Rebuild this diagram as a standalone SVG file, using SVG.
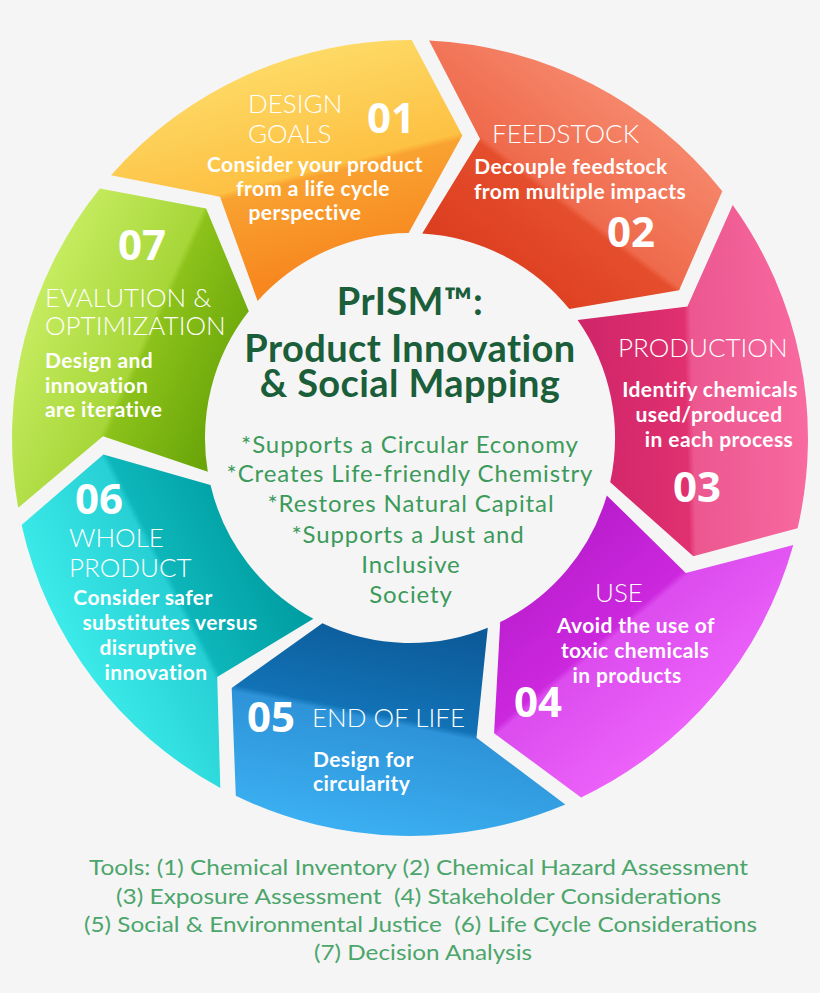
<svg xmlns="http://www.w3.org/2000/svg" width="820" height="993" viewBox="0 0 820 993">
<style>
.t{font-family:Lato,"Open Sans","Liberation Sans",sans-serif;font-weight:300;font-size:26px;fill:#ffffff}
.d{font-family:Lato,"Open Sans","Liberation Sans",sans-serif;font-weight:700;font-size:21px;fill:#ffffff;letter-spacing:0.4px}
.dm{text-anchor:middle}
.n{font-family:"Open Sans","Liberation Sans",sans-serif;font-weight:700;font-size:42px;fill:#ffffff}
.h{font-family:Lato,"Open Sans","Liberation Sans",sans-serif;font-weight:700;font-size:38px;fill:#1b5e3a;text-anchor:middle;letter-spacing:0.4px}
.b{font-family:Lato,"Open Sans","Liberation Sans",sans-serif;font-weight:400;font-size:24px;fill:#3c9a5a;text-anchor:middle;letter-spacing:0.9px}
.tl{font-family:Lato,"Open Sans","Liberation Sans",sans-serif;font-weight:400;font-size:22px;fill:#4ca56b;text-anchor:middle;white-space:pre}
</style>
<defs>
<linearGradient id="g1" gradientUnits="userSpaceOnUse" x1="365.8" y1="263.5" x2="311.8" y2="50.2">
<stop offset="0" stop-color="#F7861E"/><stop offset="0.44" stop-color="#F9A231"/><stop offset="0.47" stop-color="#FDC143"/><stop offset="1" stop-color="#FDDA66"/></linearGradient>
<linearGradient id="g2" gradientUnits="userSpaceOnUse" x1="518.8" y1="294.6" x2="651.9" y2="119.4">
<stop offset="0" stop-color="#DC3E20"/><stop offset="0.44" stop-color="#E54E2C"/><stop offset="0.47" stop-color="#EF6A4C"/><stop offset="1" stop-color="#F6876B"/></linearGradient>
<linearGradient id="g3" gradientUnits="userSpaceOnUse" x1="589.9" y1="433.7" x2="809.9" y2="428.5">
<stop offset="0" stop-color="#D0266A"/><stop offset="0.44" stop-color="#E0306F"/><stop offset="0.47" stop-color="#EC5790"/><stop offset="1" stop-color="#F86AA0"/></linearGradient>
<linearGradient id="g4" gradientUnits="userSpaceOnUse" x1="525.5" y1="576.0" x2="666.7" y2="744.8">
<stop offset="0" stop-color="#BA1ECE"/><stop offset="0.44" stop-color="#CC28DE"/><stop offset="0.47" stop-color="#DC4CEE"/><stop offset="1" stop-color="#EC62FA"/></linearGradient>
<linearGradient id="g5" gradientUnits="userSpaceOnUse" x1="374.1" y1="614.4" x2="330.2" y2="830.0">
<stop offset="0" stop-color="#0C5A98"/><stop offset="0.44" stop-color="#1272B6"/><stop offset="0.47" stop-color="#2E93D8"/><stop offset="1" stop-color="#3BB0F2"/></linearGradient>
<linearGradient id="g6" gradientUnits="userSpaceOnUse" x1="249.7" y1="519.9" x2="53.8" y2="620.0">
<stop offset="0" stop-color="#009FA3"/><stop offset="0.44" stop-color="#0DB6BA"/><stop offset="0.47" stop-color="#27D0D4"/><stop offset="1" stop-color="#3CEBEA"/></linearGradient>
<linearGradient id="g7" gradientUnits="userSpaceOnUse" x1="246.0" y1="363.7" x2="45.6" y2="273.0">
<stop offset="0" stop-color="#6AA60A"/><stop offset="0.44" stop-color="#8CC21A"/><stop offset="0.47" stop-color="#A6D638"/><stop offset="1" stop-color="#C6EC60"/></linearGradient>
</defs>
<rect x="0" y="0" width="820" height="993" fill="#f5f5f5"/>

<g id="step01">
<path fill="url(#g1)" d="M111.1,175.2 A398,398 0 0 1 411.7,40.0 L462.3,135.5 L408.6,233.0 A205,205 0 0 0 257.6,300.9 L220.0,196.8 Z"/>
<text class="t" x="248" y="113">DESIGN</text>
<text class="t" x="248" y="143">GOALS</text>
<text class="n" x="367" y="133">01</text>
<text class="d dm" x="315" y="172">Consider your product</text>
<text class="d dm" x="313" y="196">from a life cycle</text>
<text class="d dm" x="305" y="220">perspective</text>
</g>

<g id="step02">
<path fill="url(#g2)" d="M429.1,40.5 A398,398 0 0 1 722.3,191.3 L679.1,290.2 L569.4,309.1 A205,205 0 0 0 422.2,233.4 L480.1,139.1 Z"/>
<text class="t" x="492" y="143">FEEDSTOCK</text>
<text class="d dm" x="571" y="174">Decouple feedstock</text>
<text class="d dm" x="580" y="199">from multiple impacts</text>
<text class="n" x="607" y="247">02</text>
</g>

<g id="step03">
<path fill="url(#g3)" d="M732.7,205.1 A398,398 0 0 1 797.6,528.3 L693.3,556.3 L610.2,482.2 A205,205 0 0 0 577.6,319.9 L687.4,306.5 Z"/>
<text class="t" x="618" y="357">PRODUCTION</text>
<text class="d dm" x="710" y="397">Identify chemicals</text>
<text class="d dm" x="709" y="422">used/produced</text>
<text class="d dm" x="719" y="447">in each process</text>
<text class="n" x="673" y="502">03</text>
</g>

<g id="step04">
<path fill="url(#g4)" d="M793.3,545.1 A398,398 0 0 1 581.1,797.4 L494.1,733.2 L500.2,622.1 A205,205 0 0 0 606.8,495.4 L685.8,572.9 Z"/>
<text class="t" x="595" y="602">USE</text>
<text class="d dm" x="636" y="633">Avoid the use of</text>
<text class="d dm" x="635" y="658">toxic chemicals</text>
<text class="d dm" x="627" y="683">in products</text>
<text class="n" x="514" y="717">04</text>
</g>

<g id="step05">
<path fill="url(#g5)" d="M565.3,804.5 A398,398 0 0 1 235.8,795.8 L231.7,687.9 L322.4,623.3 A205,205 0 0 0 487.8,627.7 L476.5,737.7 Z"/>
<text class="n" x="247" y="732">05</text>
<text class="t" x="312" y="727">END OF LIFE</text>
<text class="d" x="313" y="767">Design for</text>
<text class="d" x="313" y="791">circularity</text>
</g>

<g id="step06">
<path fill="url(#g6)" d="M220.3,787.9 A398,398 0 0 1 21.6,524.9 L103.4,454.4 L210.5,485.0 A205,205 0 0 0 313.4,618.8 L217.2,676.9 Z"/>
<text class="n" x="75" y="514">06</text>
<text class="t" x="69" y="547">WHOLE</text>
<text class="t" x="69" y="577">PRODUCT</text>
<text class="d dm" x="143" y="605">Consider safer</text>
<text class="d dm" x="170" y="630">substitutes versus</text>
<text class="d dm" x="148" y="655">disruptive</text>
<text class="d dm" x="156" y="680">innovation</text>
</g>

<g id="step07">
<path fill="url(#g7)" d="M18.2,507.8 A398,398 0 0 1 99.9,188.5 L206.1,208.5 L248.8,311.3 A205,205 0 0 0 207.8,471.7 L103,436.2 Z"/>
<text class="n" x="118" y="260">07</text>
<text class="t" x="45" y="307">EVALUTION &amp;</text>
<text class="t" x="45" y="335">OPTIMIZATION</text>
<text class="d" x="45" y="368">Design and</text>
<text class="d" x="45" y="393">innovation</text>
<text class="d" x="45" y="417">are iterative</text>
</g>

<g id="center">
<text class="h" x="410" y="315">PrISM™:</text>
<text class="h" x="410" y="362">Product Innovation</text>
<text class="h" x="410" y="397">&amp; Social Mapping</text>
<text class="b" x="410" y="453">*Supports a Circular Economy</text>
<text class="b" x="410" y="482">*Creates Life-friendly Chemistry</text>
<text class="b" x="411" y="512">*Restores Natural Capital</text>
<text class="b" x="408" y="543">*Supports a Just and</text>
<text class="b" x="411" y="573">Inclusive</text>
<text class="b" x="411" y="603">Society</text>
</g>

<g id="tools">
<text class="tl" x="418.5" y="875" textLength="659" lengthAdjust="spacingAndGlyphs">Tools: (1) Chemical Inventory (2) Chemical Hazard Assessment</text>
<text class="tl" x="418.5" y="904" textLength="605" lengthAdjust="spacingAndGlyphs">(3) Exposure Assessment  (4) Stakeholder Considerations</text>
<text class="tl" x="420.5" y="932" textLength="673" lengthAdjust="spacingAndGlyphs">(5) Social &amp; Environmental Justice  (6) Life Cycle Considerations</text>
<text class="tl" x="423" y="960" textLength="218" lengthAdjust="spacingAndGlyphs">(7) Decision Analysis</text>
</g>

<g id="connectors"></g>
</svg>
